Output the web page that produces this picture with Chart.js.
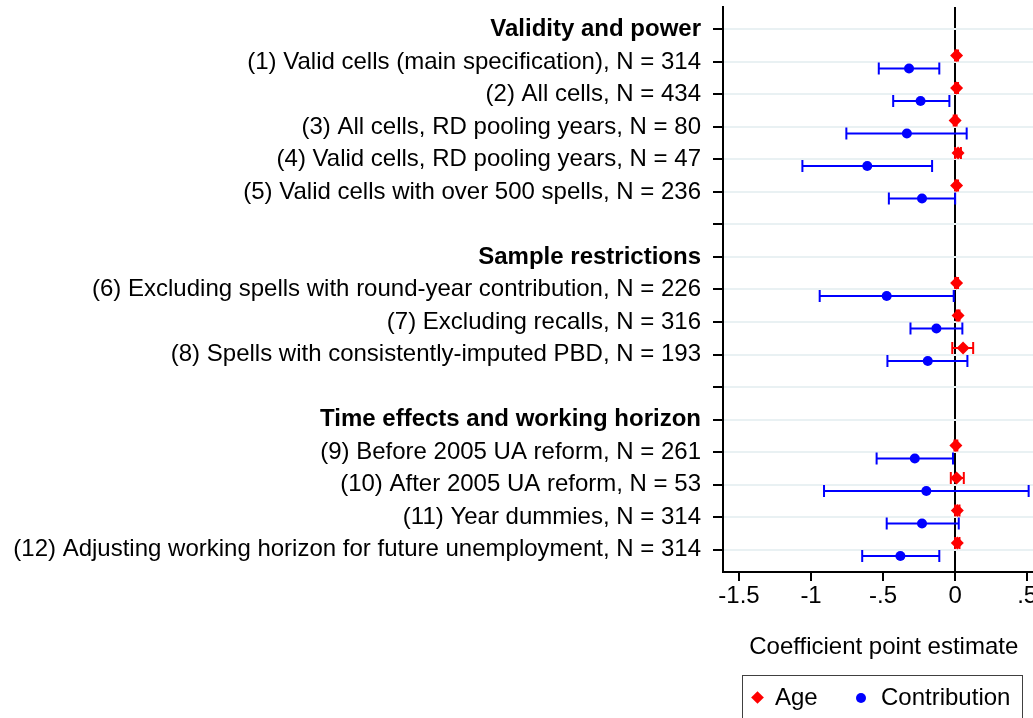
<!DOCTYPE html>
<html>
<head>
<meta charset="utf-8">
<script src="https://cdn.jsdelivr.net/npm/chart.js@4.4.0/dist/chart.umd.min.js"></script>
<style>
  html, body { margin: 0; padding: 0; background: #fff; overflow: hidden; }
  #wrap { position: relative; width: 1033px; height: 718px; overflow: hidden; }
  #myChart { position: absolute; left: 0; top: 0; }
  #legend {
    position: absolute; left: 742px; top: 675px; width: 281px; height: 60px;
    border: 1px solid #404040; box-sizing: border-box;
    font-family: 'Liberation Sans', Arial, sans-serif; font-size: 24px; color: #000;
  }
  #legend .item { position: absolute; top: 7px; line-height: 28px; }
  #legend .diamond { position: absolute; width: 9px; height: 9px; background: #ff0000; transform: rotate(45deg); }
  #legend .dot { position: absolute; width: 10px; height: 10px; border-radius: 50%; background: #0000ff; }
</style>
</head>
<body>
<div id="wrap">
  <canvas id="myChart" width="1051" height="718"></canvas>
  <div id="legend">
    <span class="diamond" style="left:10px; top:17px;"></span>
    <span class="item" style="left:32px;">Age</span>
    <span class="dot" style="left:113px; top:17px;"></span>
    <span class="item" style="left:138px;">Contribution</span>
  </div>
</div>
<script>
// rows of the plot, top to bottom (empty strings are spacer rows)
var rowLabels = [
    "Validity and power",
    "(1) Valid cells (main specification), N = 314",
    "(2) All cells, N = 434",
    "(3) All cells, RD pooling years, N = 80",
    "(4) Valid cells, RD pooling years, N = 47",
    "(5) Valid cells with over 500 spells, N = 236",
    "",
    "Sample restrictions",
    "(6) Excluding spells with round-year contribution, N = 226",
    "(7) Excluding recalls, N = 316",
    "(8) Spells with consistently-imputed PBD, N = 193",
    "",
    "Time effects and working horizon",
    "(9) Before 2005 UA reform, N = 261",
    "(10) After 2005 UA reform, N = 53",
    "(11) Year dummies, N = 314",
    "(12) Adjusting working horizon for future unemployment, N = 314"
];
var headerRows = [0, 7, 12];
var specRows = [1, 2, 3, 4, 5, 8, 9, 10, 13, 14, 15, 16];

var ageEst = [0.01, 0.01, 0.0, 0.02, 0.01, 0.01, 0.02, 0.055, 0.005, 0.01, 0.015, 0.015];
var ageLo  = [0.0, 0.0, -0.01, 0.0, 0.0, 0.0, 0.01, -0.02, -0.005, -0.03, 0.0, 0.0];
var ageHi  = [0.02, 0.02, 0.01, 0.04, 0.02, 0.02, 0.03, 0.125, 0.015, 0.06, 0.03, 0.03];

var contribEst = [-0.32, -0.24, -0.335, -0.61, -0.23, -0.475, -0.13, -0.19, -0.28, -0.2, -0.23, -0.38];
var contribLo  = [-0.53, -0.43, -0.755, -1.06, -0.46, -0.94, -0.31, -0.47, -0.545, -0.91, -0.475, -0.645];
var contribHi  = [-0.11, -0.04, 0.08, -0.16, 0.0, -0.01, 0.05, 0.085, -0.015, 0.51, 0.025, -0.11];

var xTicks = [-1.5, -1, -0.5, 0, 0.5];

var fontFamily = "'Liberation Sans', Arial, sans-serif";

function pontos(est, lo, hi, deslocamento) {
    var data = [];
    for (var i = 0; i < specRows.length; i++) {
        data.push({ x: est[i], y: specRows[i] + deslocamento, lo: lo[i], hi: hi[i] });
    }
    return data;
}

// draws the confidence intervals with caps, under the markers
var errorBars = {
    id: 'errorBars',
    beforeDatasetsDraw: function (chart) {
        var ctx = chart.ctx;
        var sx = chart.scales.x, sy = chart.scales.y;
        chart.data.datasets.forEach(function (ds) {
            ctx.save();
            ctx.strokeStyle = ds.borderColor;
            ctx.lineWidth = 2;
            ds.data.forEach(function (p) {
                var yp = sy.getPixelForValue(p.y);
                var x1 = sx.getPixelForValue(p.lo);
                var x2 = sx.getPixelForValue(p.hi);
                ctx.beginPath();
                ctx.moveTo(x1, yp); ctx.lineTo(x2, yp);
                ctx.moveTo(x1, yp - 6); ctx.lineTo(x1, yp + 6);
                ctx.moveTo(x2, yp - 6); ctx.lineTo(x2, yp + 6);
                ctx.stroke();
            });
            ctx.restore();
        });
    }
};

var ctx = document.getElementById("myChart");
var myChart = new Chart(ctx, {
    type: 'scatter',
    data: {
        datasets: [{
            label: 'Age',
            data: pontos(ageEst, ageLo, ageHi, -0.2),
            backgroundColor: '#ff0000',
            borderColor: '#ff0000',
            pointStyle: 'rectRot',
            pointRadius: 6.5,
            borderWidth: 0
        }, {
            label: 'Contribution',
            data: pontos(contribEst, contribLo, contribHi, 0.2),
            backgroundColor: '#0000ff',
            borderColor: '#0000ff',
            pointStyle: 'circle',
            pointRadius: 5,
            borderWidth: 0
        }]
    },
    options: {
        responsive: false,
        animation: false,
        layout: { padding: { top: 7, left: 0, right: 0, bottom: 56 } },
        plugins: {
            legend: { display: false },
            tooltip: { enabled: false }
        },
        scales: {
            x: {
                type: 'linear',
                min: -1.611,
                max: 0.62,
                afterBuildTicks: function (scale) {
                    scale.ticks = xTicks.map(function (v) { return { value: v }; });
                },
                afterFit: function (scale) {
                    scale.height = 90;
                    scale.paddingLeft = 0;
                    scale.paddingRight = 0;
                },
                border: { color: '#000', width: 2 },
                grid: {
                    color: function (c) { return c.tick && c.tick.value === 0 ? '#000' : 'rgba(0,0,0,0)'; },
                    lineWidth: 2,
                    tickColor: '#000',
                    tickLength: 9
                },
                ticks: {
                    color: '#000',
                    padding: 3,
                    maxRotation: 0,
                    font: { family: fontFamily, size: 24, lineHeight: 1 },
                    callback: function (v) {
                        if (v === 0) return '0';
                        return String(v).replace('0.', '.');
                    }
                },
                title: {
                    display: true,
                    text: 'Coefficient point estimate',
                    color: '#000',
                    padding: 0,
                    font: { family: fontFamily, size: 24 }
                }
            },
            y: {
                type: 'linear',
                reverse: true,
                min: -0.69,
                max: 16.69,
                afterBuildTicks: function (scale) {
                    scale.ticks = rowLabels.map(function (_, i) { return { value: i }; });
                },
                afterFit: function (scale) {
                    scale.width = 723;
                    scale.paddingTop = 0;
                    scale.paddingBottom = 0;
                },
                border: { color: '#000', width: 2 },
                grid: {
                    color: 'rgb(233, 241, 243)',
                    lineWidth: 2,
                    tickColor: '#000',
                    tickLength: 10
                },
                ticks: {
                    color: '#000',
                    padding: 12,
                    autoSkip: false,
                    font: function (c) {
                        var negrito = c.tick && headerRows.indexOf(c.tick.value) >= 0;
                        return { family: fontFamily, size: 24, weight: negrito ? 'bold' : 'normal' };
                    },
                    callback: function (v) { return rowLabels[v]; }
                }
            }
        }
    },
    plugins: [errorBars]
});
</script>
</body>
</html>
